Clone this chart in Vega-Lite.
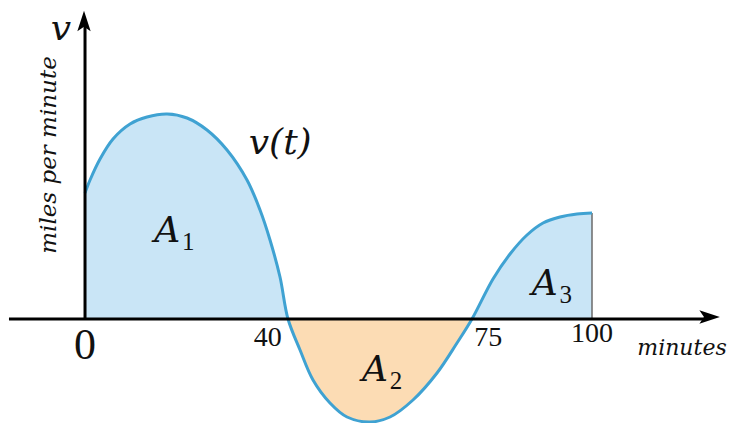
{
  "$schema": "https://vega.github.io/schema/vega-lite/v6.json",
  "width": 730,
  "height": 423,
  "autosize": "none",
  "padding": 0,
  "background": "white",
  "config": {"view": {"stroke": null}},
  "datasets": {
    "curve": [
      {"t": 0, "v": 1.26}, {"t": 0.99, "v": 1.39}, {"t": 2.96, "v": 1.6}, {"t": 5.52, "v": 1.8}, {"t": 8.88, "v": 1.95},
      {"t": 12.23, "v": 2.02}, {"t": 16.2, "v": 2.05}, {"t": 20.12, "v": 2.01}, {"t": 24.06, "v": 1.89},
      {"t": 28.01, "v": 1.69}, {"t": 31.95, "v": 1.39}, {"t": 34.52, "v": 1.09}, {"t": 36.49, "v": 0.79},
      {"t": 38.46, "v": 0.42}, {"t": 40.04, "v": 0}, {"t": 42.41, "v": -0.31}, {"t": 44.97, "v": -0.61},
      {"t": 48.32, "v": -0.84}, {"t": 51.68, "v": -0.98}, {"t": 56.2, "v": -1.03}, {"t": 60.16, "v": -0.98},
      {"t": 64.69, "v": -0.81}, {"t": 69.43, "v": -0.54}, {"t": 73.37, "v": -0.24}, {"t": 76.33, "v": 0},
      {"t": 80.47, "v": 0.4}, {"t": 83.83, "v": 0.65}, {"t": 87.18, "v": 0.84}, {"t": 90.34, "v": 0.96},
      {"t": 93.69, "v": 1.02}, {"t": 97.04, "v": 1.05}, {"t": 100, "v": 1.06}
    ],
    "areas": [
      {"t": 0, "v": 1.26, "part": "A1"}, {"t": 0.99, "v": 1.39, "part": "A1"}, {"t": 2.96, "v": 1.6, "part": "A1"}, {"t": 5.52, "v": 1.8, "part": "A1"},
      {"t": 8.88, "v": 1.95, "part": "A1"}, {"t": 12.23, "v": 2.02, "part": "A1"}, {"t": 16.2, "v": 2.05, "part": "A1"},
      {"t": 20.12, "v": 2.01, "part": "A1"}, {"t": 24.06, "v": 1.89, "part": "A1"}, {"t": 28.01, "v": 1.69, "part": "A1"},
      {"t": 31.95, "v": 1.39, "part": "A1"}, {"t": 34.52, "v": 1.09, "part": "A1"}, {"t": 36.49, "v": 0.79, "part": "A1"},
      {"t": 38.46, "v": 0.42, "part": "A1"}, {"t": 40.04, "v": 0, "part": "A1"},
      {"t": 40.04, "v": 0, "part": "A2"}, {"t": 42.41, "v": -0.31, "part": "A2"}, {"t": 44.97, "v": -0.61, "part": "A2"},
      {"t": 48.32, "v": -0.84, "part": "A2"}, {"t": 51.68, "v": -0.98, "part": "A2"}, {"t": 56.2, "v": -1.03, "part": "A2"},
      {"t": 60.16, "v": -0.98, "part": "A2"}, {"t": 64.69, "v": -0.81, "part": "A2"}, {"t": 69.43, "v": -0.54, "part": "A2"},
      {"t": 73.37, "v": -0.24, "part": "A2"}, {"t": 76.33, "v": 0, "part": "A2"},
      {"t": 76.33, "v": 0, "part": "A3"}, {"t": 80.47, "v": 0.4, "part": "A3"}, {"t": 83.83, "v": 0.65, "part": "A3"},
      {"t": 87.18, "v": 0.84, "part": "A3"}, {"t": 90.34, "v": 0.96, "part": "A3"}, {"t": 93.69, "v": 1.02, "part": "A3"},
      {"t": 97.04, "v": 1.05, "part": "A3"}, {"t": 100, "v": 1.06, "part": "A3"}
    ],
    "names": [
      {"t": 16.2, "v": 0.88, "name": "A", "sub": "1"},
      {"t": 57.2, "v": -0.51, "name": "A", "sub": "2"},
      {"t": 90.7, "v": 0.35, "name": "A", "sub": "3"}
    ]
  },
  "encoding": {
    "x": {"field": "t", "type": "quantitative", "scale": {"domain": [-16.77, 127.22], "nice": false, "zero": false}, "axis": null},
    "y": {"field": "v", "type": "quantitative", "scale": {"domain": [-1.04, 3.19], "nice": false, "zero": false}, "axis": null}
  },
  "layer": [
    {
      "data": {"name": "areas"},
      "transform": [{"filter": "datum.part != 'A2'"}],
      "mark": {"type": "area", "interpolate": "catmull-rom", "color": "#c9e5f6"},
      "encoding": {"y2": {"datum": 0}, "detail": {"field": "part"}}
    },
    {
      "data": {"name": "areas"},
      "transform": [{"filter": "datum.part == 'A2'"}],
      "mark": {"type": "area", "interpolate": "catmull-rom", "color": "#fcdcb4"},
      "encoding": {"y2": {"datum": 0}}
    },
    {
      "data": {"values": [{"t": 100, "v": 1.06}]},
      "mark": {"type": "rule", "color": "#6a6a6a", "strokeWidth": 1.5},
      "encoding": {"y2": {"datum": 0}}
    },
    {
      "data": {"name": "curve"},
      "mark": {"type": "line", "interpolate": "catmull-rom", "color": "#3fa2d2", "strokeWidth": 3},
      "encoding": {}
    },
    {
      "data": {"values": [{"t": -15, "v": 0, "t2": 122.5}]},
      "mark": {"type": "rule", "color": "black", "strokeWidth": 3},
      "encoding": {"x2": {"field": "t2"}}
    },
    {
      "data": {"values": [{"t": 0, "v": 0, "v2": 2.95}]},
      "mark": {"type": "rule", "color": "black", "strokeWidth": 3},
      "encoding": {"y2": {"field": "v2"}}
    },
    {
      "data": {"values": [{"t": 123.2, "v": 0.02}]},
      "mark": {"type": "point", "filled": true, "color": "black", "opacity": 1, "size": 420, "shape": "M1,0 L-1,-0.65 L-0.55,0 L-1,0.65 Z"},
      "encoding": {}
    },
    {
      "data": {"values": [{"t": -0.2, "v": 2.98}]},
      "mark": {"type": "point", "filled": true, "color": "black", "opacity": 1, "size": 420, "shape": "M0,-1 L-0.65,1 L0,0.55 L0.65,1 Z"},
      "encoding": {}
    },
    {
      "data": {"values": [{"t": 0, "v": 0, "label": "0"}]},
      "mark": {"type": "text", "font": "Liberation Serif", "fontSize": 44, "dy": 27, "baseline": "middle", "align": "center", "color": "#111"},
      "encoding": {"text": {"field": "label"}}
    },
    {
      "data": {"values": [{"t": 40, "v": 0, "label": "40"}]},
      "mark": {"type": "text", "font": "Liberation Serif", "fontSize": 28, "dx": -20, "dy": 19, "baseline": "middle", "align": "center", "color": "#111"},
      "encoding": {"text": {"field": "label"}}
    },
    {
      "data": {"values": [{"t": 75, "v": 0, "label": "75"}]},
      "mark": {"type": "text", "font": "Liberation Serif", "fontSize": 28, "dx": 23, "dy": 19, "baseline": "middle", "align": "center", "color": "#111"},
      "encoding": {"text": {"field": "label"}}
    },
    {
      "data": {"values": [{"t": 100, "v": 0, "label": "100"}]},
      "mark": {"type": "text", "font": "Liberation Serif", "fontSize": 28, "dx": 0, "dy": 15, "baseline": "middle", "align": "center", "color": "#111"},
      "encoding": {"text": {"field": "label"}}
    },
    {
      "data": {"values": [{"t": 117.75, "v": -0.29, "label": "minutes"}]},
      "mark": {"type": "text", "font": "DejaVu Serif", "fontStyle": "italic", "fontSize": 22, "baseline": "middle", "align": "center", "color": "#111"},
      "encoding": {"text": {"field": "label"}}
    },
    {
      "data": {"values": [{"t": -4.73, "v": 2.9, "label": "v"}]},
      "mark": {"type": "text", "font": "DejaVu Serif", "fontStyle": "italic", "fontSize": 36, "baseline": "middle", "align": "center", "color": "#111"},
      "encoding": {"text": {"field": "label"}}
    },
    {
      "data": {"values": [{"t": -7.1, "v": 1.64, "label": "miles per minute"}]},
      "mark": {"type": "text", "font": "DejaVu Serif", "fontStyle": "italic", "fontSize": 23, "angle": 270, "baseline": "middle", "align": "center", "color": "#111"},
      "encoding": {"text": {"field": "label"}}
    },
    {
      "data": {"values": [{"t": 38.5, "v": 1.76, "label": "v(t)"}]},
      "mark": {"type": "text", "font": "DejaVu Serif", "fontStyle": "italic", "fontSize": 36, "baseline": "middle", "align": "center", "color": "#111"},
      "encoding": {"text": {"field": "label"}}
    },
    {
      "data": {"name": "names"},
      "mark": {"type": "text", "font": "DejaVu Serif", "fontStyle": "italic", "fontSize": 36, "baseline": "middle", "align": "center", "color": "#111"},
      "encoding": {"text": {"field": "name"}}
    },
    {
      "data": {"name": "names"},
      "mark": {"type": "text", "font": "Liberation Serif", "fontSize": 25, "dx": 21, "dy": 11, "baseline": "middle", "align": "center", "color": "#111"},
      "encoding": {"text": {"field": "sub"}}
    }
  ]
}
